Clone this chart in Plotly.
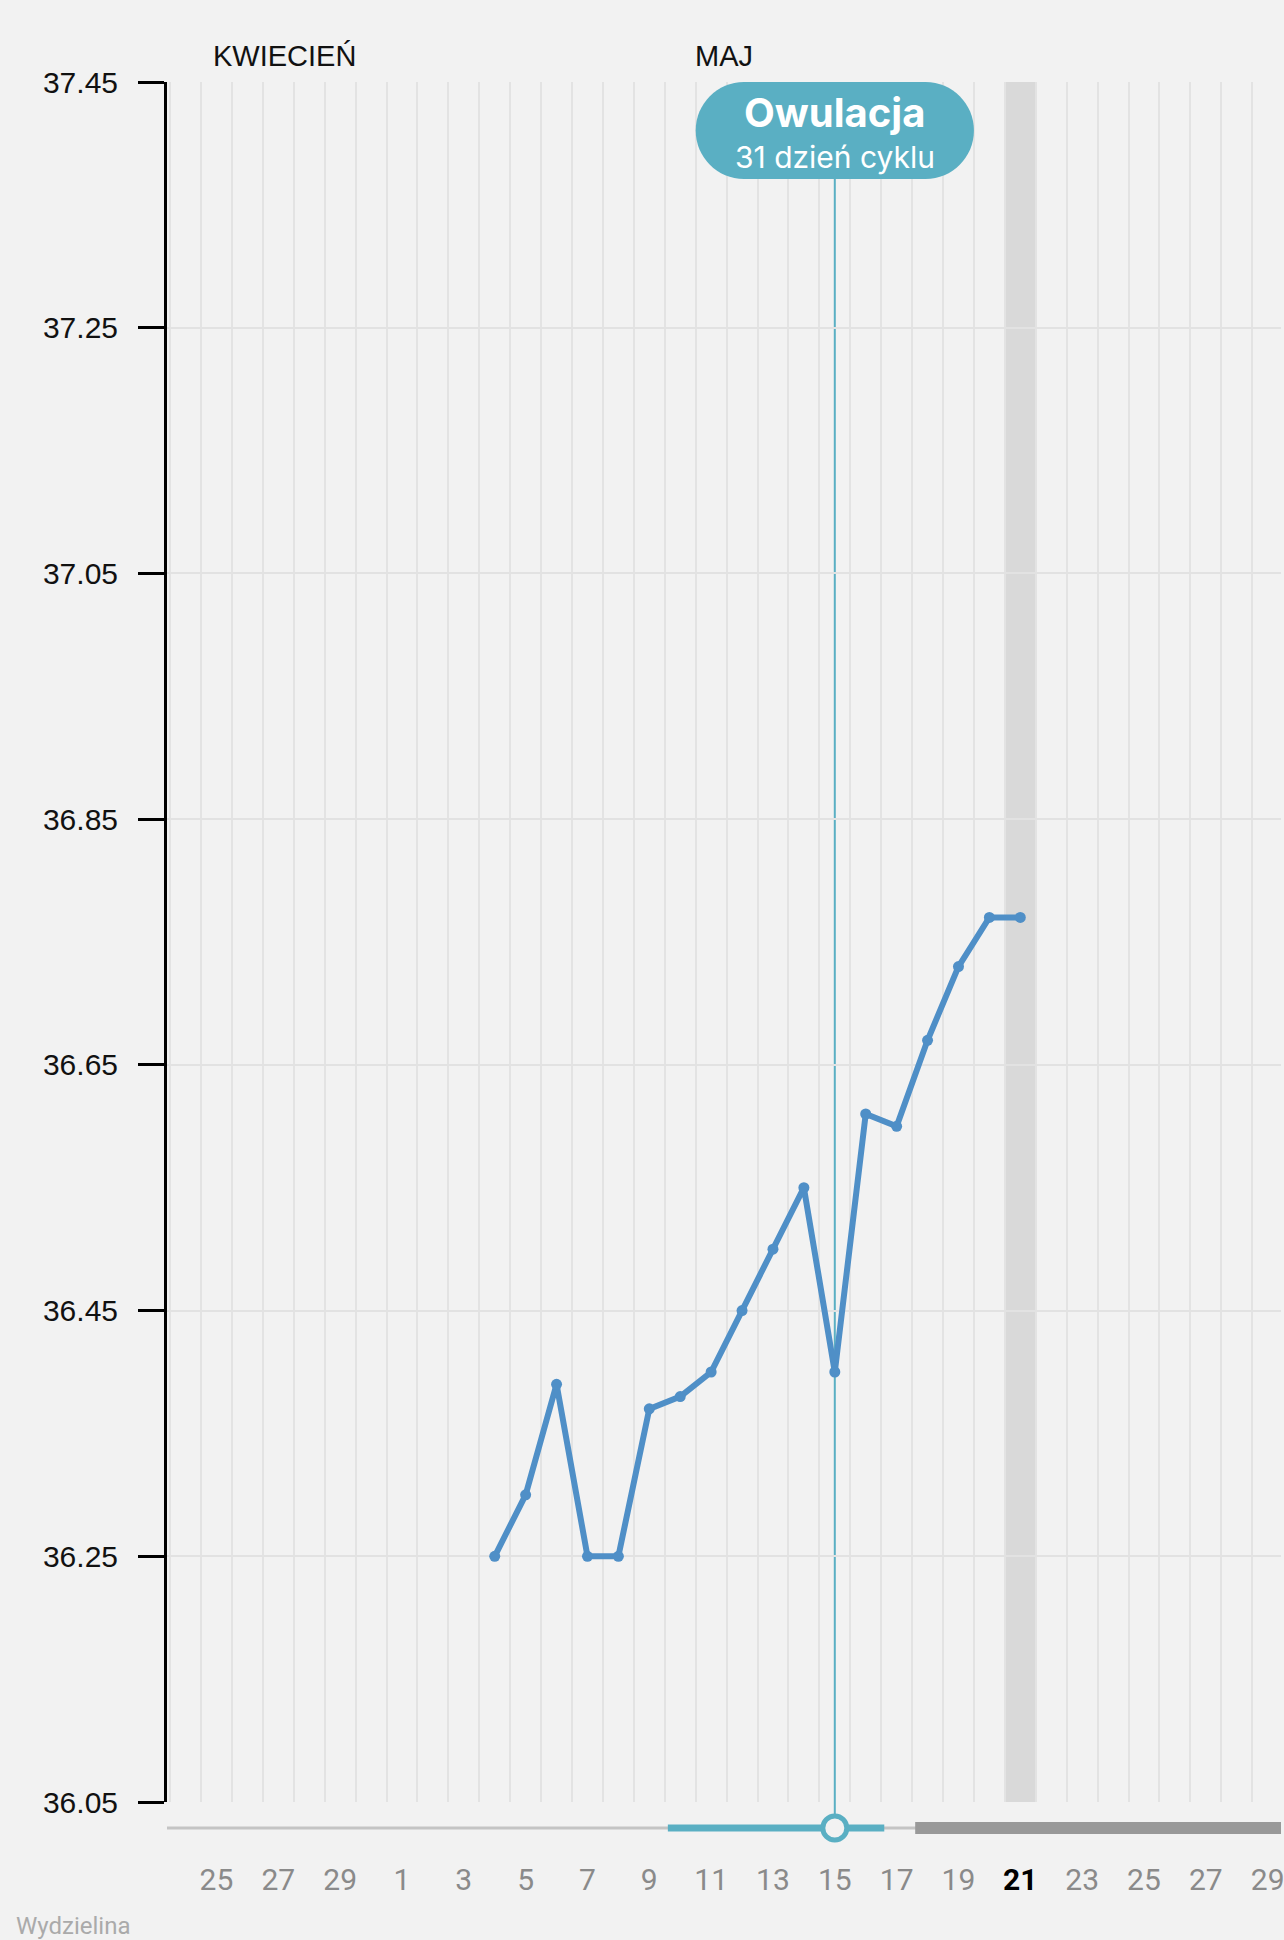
import plotly.graph_objects as go

# ---- data ----
days = [4, 5, 6, 7, 8, 9, 10, 11, 12, 13, 14, 15, 16, 17, 18, 19, 20, 21]  # May
temps = [36.25, 36.30, 36.39, 36.25, 36.25, 36.37, 36.38, 36.40, 36.45, 36.50,
         36.55, 36.40, 36.61, 36.60, 36.67, 36.73, 36.77, 36.77]

tick_days = [-7, -5, -3, -1, 1, 3, 5, 7, 9, 11, 13, 15, 17, 19, 21, 23, 25, 27, 29]
tick_labels = ["23", "25", "27", "29", "1", "3", "5", "7", "9", "11", "13", "15",
               "17", "19", "21", "23", "25", "27", "29"]
today = 21

y_ticks = [36.05, 36.25, 36.45, 36.65, 36.85, 37.05, 37.25, 37.45]

month_names = ["KWIECIEŃ", "MAJ"]
month_pos = [-2.8, 11.4]

ovulation_day = 15
ovulation_title = "Owulacja"
ovulation_sub = "31 dzień cyklu"
fertile_window = [9.6, 16.6]
luteal_start = 17.6

# ---- layout geometry ----
W, H = 1284, 1940
ML, MR, MT, MB = 167, 0, 82, 138
PW, PH = W - ML - MR, H - MT - MB
px_per_day = 31.0
xmin = -6.6
xmax = xmin + PW / px_per_day

BG = "#f2f2f2"
TEAL = "#5aafc3"
BLUE = "#4f8fc7"

def dx(px):
    return px / px_per_day

def dy(px):
    return px / PH

fig = go.Figure()
fig.add_trace(go.Scatter(
    x=days, y=temps, mode="lines+markers",
    line=dict(color=BLUE, width=6),
    marker=dict(color=BLUE, size=11),
    hoverinfo="skip", showlegend=False,
))

ticktext = []
for v, t in zip(tick_days, tick_labels):
    if v == today:
        ticktext.append("<span style='color:#000000'><b>%s</b></span>" % t)
    else:
        ticktext.append(t)

shapes = []
shapes.append(dict(type="rect", xref="x", yref="paper", x0=today - 0.5, x1=today + 0.5,
                   y0=0, y1=1, fillcolor="#d9d9d9", line=dict(width=0), layer="below"))
y_slider = -dy(26)
shapes.append(dict(type="line", xref="x", yref="paper", x0=ovulation_day, x1=ovulation_day,
                   y0=y_slider, y1=1 - dy(97), line=dict(color=TEAL, width=2), layer="between"))
# bubble (pill)
bh = 97
bw = 279
r = bh / 2
cx = ovulation_day
x0 = cx - dx(bw / 2)
x1 = cx + dx(bw / 2)
yt = 1.0
yb = 1 - dy(bh)
rx, ry = dx(r), dy(r)
k = 0.5523
ym = (yt + yb) / 2
path = (
    f"M {x0 + rx},{yt} L {x1 - rx},{yt} "
    f"C {x1 - rx + k * rx},{yt} {x1},{ym + k * ry} {x1},{ym} "
    f"C {x1},{ym - k * ry} {x1 - rx + k * rx},{yb} {x1 - rx},{yb} "
    f"L {x0 + rx},{yb} "
    f"C {x0 + rx - k * rx},{yb} {x0},{ym - k * ry} {x0},{ym} "
    f"C {x0},{ym + k * ry} {x0 + rx - k * rx},{yt} {x0 + rx},{yt} Z"
)
shapes.append(dict(type="path", xref="x", yref="paper", path=path,
                   fillcolor=TEAL, line=dict(width=0), layer="above"))
# slider track
shapes.append(dict(type="line", xref="x", yref="paper", x0=xmin, x1=xmax + 2,
                   y0=y_slider, y1=y_slider, line=dict(color="#c4c4c4", width=3)))
shapes.append(dict(type="line", xref="x", yref="paper", x0=fertile_window[0], x1=fertile_window[1],
                   y0=y_slider, y1=y_slider, line=dict(color=TEAL, width=7)))
shapes.append(dict(type="line", xref="x", yref="paper", x0=luteal_start, x1=xmax + 2,
                   y0=y_slider, y1=y_slider, line=dict(color="#999999", width=12)))
shapes.append(dict(type="circle", xref="x", yref="paper", xsizemode="pixel", ysizemode="pixel",
                   xanchor=ovulation_day, yanchor=y_slider, x0=-12, x1=12, y0=-12, y1=12,
                   fillcolor=BG, line=dict(color=TEAL, width=5)))

annotations = []
for name, pos in zip(month_names, month_pos):
    annotations.append(dict(text=name, x=pos, y=1 + dy(26), xref="x", yref="paper",
                            showarrow=False, yanchor="middle", xanchor="center",
                            font=dict(family="Liberation Sans, Arial", size=29, color="#111111")))
annotations.append(dict(text="<b>%s</b>" % ovulation_title, x=ovulation_day, y=1 - dy(31),
                        xref="x", yref="paper", showarrow=False, yanchor="middle",
                        font=dict(family="Inter, Open Sans", size=40, color="white")))
annotations.append(dict(text=ovulation_sub, x=ovulation_day, y=1 - dy(75),
                        xref="x", yref="paper", showarrow=False, yanchor="middle",
                        font=dict(family="Inter, Open Sans", size=30, color="white")))
annotations.append(dict(text="Wydzielina", x=(14 - ML) / PW, y=-(1926 - (MT + PH)) / PH,
                        xref="paper", yref="paper",
                        showarrow=False, xanchor="left", yanchor="middle",
                        font=dict(family="Roboto, Arial", size=24, color="#aaaaaa")))

fig.update_layout(
    width=W, height=H,
    margin=dict(l=ML, r=MR, t=MT, b=MB, pad=0),
    paper_bgcolor=BG, plot_bgcolor=BG,
    shapes=shapes, annotations=annotations,
    showlegend=False,
    xaxis=dict(
        range=[xmin, xmax], tickmode="array", tickvals=tick_days, ticktext=ticktext,
        showgrid=False, zeroline=False, showline=False,
        ticks="outside", ticklen=51, tickcolor="rgba(0,0,0,0)",
        ticklabeloverflow="allow",
        tickfont=dict(family="Roboto, Arial", size=30, color="#8a8a8a"),
        minor=dict(tick0=0.5, dtick=1, showgrid=True, gridcolor="#e3e3e3", gridwidth=2, ticks=""),
        fixedrange=True,
    ),
    yaxis=dict(
        range=[36.05, 37.45], tickmode="array", tickvals=y_ticks,
        ticktext=["%.2f" % v for v in y_ticks],
        showgrid=True, gridcolor="#e2e2e2", gridwidth=2, zeroline=False,
        showline=True, linecolor="#000000", linewidth=3,
        ticks="outside", ticklen=26, tickwidth=3, tickcolor="#000000",
        ticklabelstandoff=14,
        tickfont=dict(family="Liberation Sans, Arial", size=30, color="#111111"),
        fixedrange=True,
    ),
)

fig.write_html("out.html", config={"displayModeBar": False},
               post_script="document.body.style.margin='0';document.body.style.background='%s';" % BG)
